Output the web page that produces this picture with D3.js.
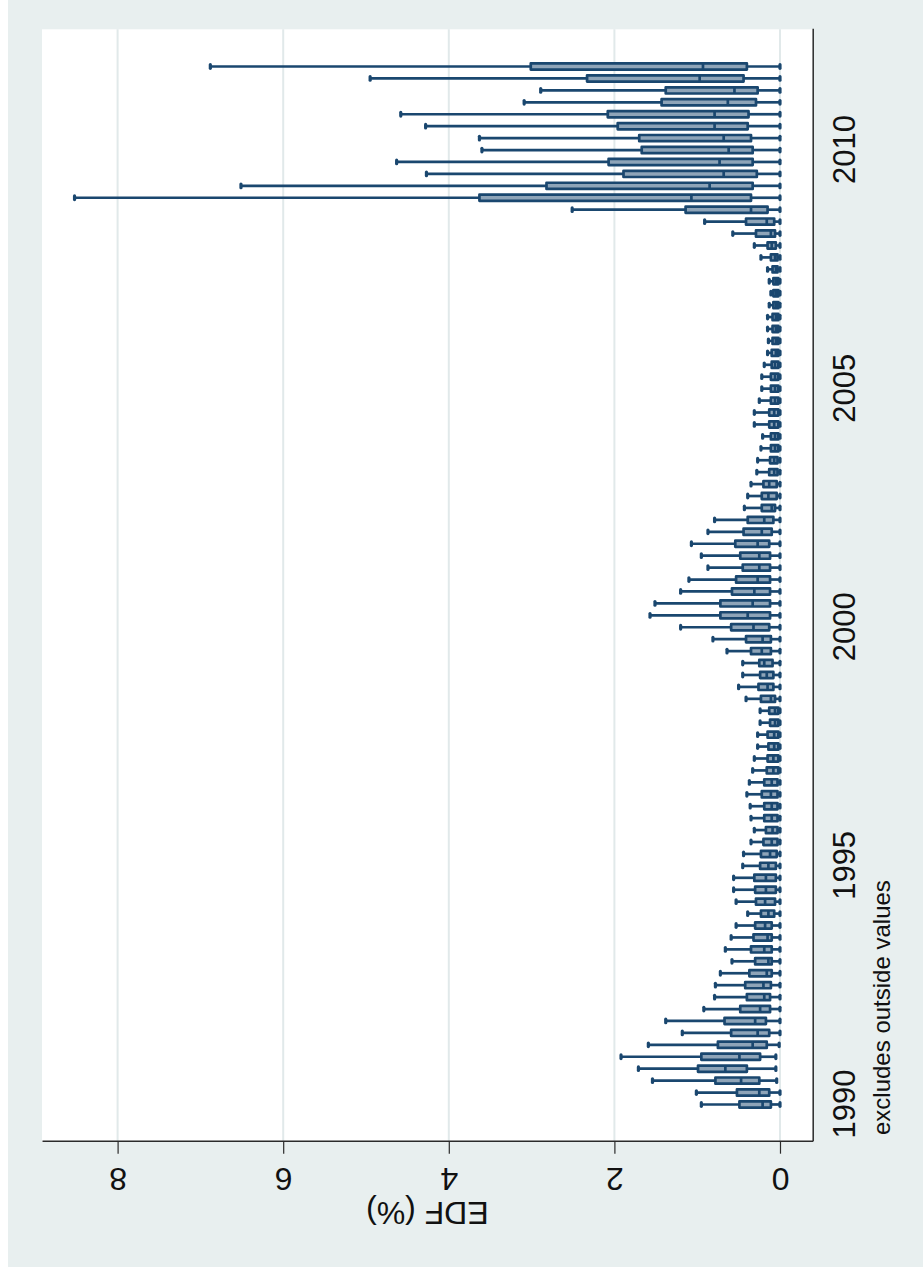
<!DOCTYPE html>
<html>
<head>
<meta charset="utf-8">
<script src="https://cdn.jsdelivr.net/npm/d3@7"></script>
<style>
  html, body { margin: 0; padding: 0; background: #ffffff; }
  svg { display: block; }
  text { font-family: "Liberation Sans", Arial, sans-serif; fill: #111; }
</style>
</head>
<body>
<svg id="chart" width="923" height="1272"></svg>
<script>
// Quarterly distribution of EDF (%), 1990q1 - 2011q4
const years = d3.range(1990, 2012);
const quarters = ["q1", "q2", "q3", "q4"];
const categories = years.flatMap(y => quarters.map(q => y + q));

// Box statistics, one value per quarter (4 per line = one year)
const lowWhisker = [
  0.00, 0.00, 0.04, 0.05,  0.05, 0.01, 0.00, 0.00,  0.00, 0.00, 0.00, 0.00,
  0.00, 0.00, 0.00, 0.00,  0.00, 0.00, 0.00, 0.00,  0.00, 0.00, 0.00, 0.00,
  0.00, 0.00, 0.00, 0.00,  0.00, 0.00, 0.00, 0.00,  0.00, 0.00, 0.00, 0.00,
  0.00, 0.00, 0.00, 0.00,  0.00, 0.00, 0.00, 0.00,  0.00, 0.00, 0.00, 0.00,
  0.00, 0.00, 0.00, 0.00,  0.00, 0.00, 0.00, 0.00,  0.00, 0.00, 0.00, 0.00,
  0.00, 0.00, 0.00, 0.00,  0.00, 0.00, 0.00, 0.00,  0.00, 0.00, 0.00, 0.00,
  0.00, 0.00, 0.00, 0.00,  0.00, 0.00, 0.00, 0.00,  0.00, 0.00, 0.00, 0.00,
  0.00, 0.00, 0.00, 0.00
];
const q1 = [
  0.11, 0.13, 0.25, 0.40,  0.24, 0.16, 0.13, 0.17,  0.12, 0.12, 0.11, 0.10,
  0.10, 0.10, 0.10, 0.10,  0.07, 0.06, 0.05, 0.05,  0.05, 0.04, 0.03, 0.03,
  0.03, 0.03, 0.03, 0.03,  0.02, 0.02, 0.02, 0.02,  0.02, 0.02, 0.06, 0.08,
  0.08, 0.09, 0.11, 0.11,  0.13, 0.12, 0.12, 0.12,  0.12, 0.12, 0.12, 0.13,
  0.10, 0.08, 0.06, 0.04,  0.04, 0.03, 0.03, 0.02,  0.02, 0.02, 0.02, 0.02,
  0.02, 0.02, 0.02, 0.02,  0.02, 0.02, 0.02, 0.02,  0.02, 0.02, 0.03, 0.03,
  0.05, 0.06, 0.07, 0.15,  0.35, 0.33, 0.28, 0.33,  0.33, 0.35, 0.39, 0.38,
  0.29, 0.27, 0.44, 0.40
];
const median = [
  0.21, 0.25, 0.47, 0.66,  0.49, 0.33, 0.27, 0.30,  0.24, 0.19, 0.20, 0.16,
  0.14, 0.19, 0.15, 0.18,  0.14, 0.18, 0.17, 0.17,  0.14, 0.12, 0.10, 0.09,
  0.10, 0.10, 0.11, 0.10,  0.08, 0.08, 0.07, 0.07,  0.06, 0.06, 0.11, 0.15,
  0.16, 0.19, 0.22, 0.21,  0.32, 0.39, 0.33, 0.31,  0.27, 0.25, 0.25, 0.27,
  0.22, 0.19, 0.10, 0.14,  0.13, 0.07, 0.07, 0.06,  0.06, 0.07, 0.07, 0.06,
  0.06, 0.06, 0.06, 0.05,  0.05, 0.05, 0.05, 0.05,  0.05, 0.05, 0.05, 0.06,
  0.10, 0.11, 0.16, 0.35,  1.07, 0.85, 0.68, 0.73,  0.62, 0.68, 0.79, 0.79,
  0.63, 0.55, 0.97, 0.93
];
const q3 = [
  0.49, 0.52, 0.78, 0.99,  0.95, 0.75, 0.59, 0.67,  0.48, 0.40, 0.42, 0.37,
  0.30, 0.35, 0.32, 0.30,  0.23, 0.29, 0.30, 0.31,  0.24, 0.23, 0.20, 0.17,
  0.19, 0.19, 0.22, 0.19,  0.16, 0.15, 0.14, 0.15,  0.12, 0.13, 0.23, 0.26,
  0.24, 0.25, 0.35, 0.41,  0.59, 0.72, 0.72, 0.58,  0.53, 0.45, 0.48, 0.54,
  0.44, 0.39, 0.22, 0.22,  0.20, 0.13, 0.12, 0.11,  0.11, 0.13, 0.13, 0.11,
  0.11, 0.11, 0.10, 0.10,  0.09, 0.09, 0.09, 0.08,  0.08, 0.08, 0.09, 0.11,
  0.15, 0.29, 0.41, 1.14,  3.63, 2.82, 1.89, 2.07,  1.67, 1.70, 1.96, 2.08,
  1.43, 1.38, 2.33, 3.01
];
const highWhisker = [
  0.95, 1.01, 1.54, 1.71,  1.92, 1.59, 1.18, 1.38,  0.92, 0.79, 0.78, 0.72,
  0.58, 0.66, 0.59, 0.53,  0.39, 0.53, 0.56, 0.56,  0.45, 0.44, 0.35, 0.31,
  0.35, 0.36, 0.40, 0.37,  0.33, 0.31, 0.27, 0.27,  0.24, 0.24, 0.41, 0.50,
  0.45, 0.45, 0.64, 0.81,  1.20, 1.57, 1.51, 1.20,  1.10, 0.87, 0.95, 1.07,
  0.87, 0.79, 0.43, 0.39,  0.35, 0.28, 0.27, 0.23,  0.21, 0.31, 0.31, 0.25,
  0.22, 0.22, 0.19, 0.15,  0.14, 0.15, 0.15, 0.13,  0.11, 0.13, 0.15, 0.23,
  0.31, 0.57, 0.91, 2.51,  8.52, 6.51, 4.27, 4.63,  3.60, 3.63, 4.28, 4.58,
  3.09, 2.89, 4.95, 6.88
];

// Axis labels
const edfTicks = [0, 2, 4, 6, 8];
const yearLabels = ["1990", "1995", "2000", "2005", "2010"];
const yTitle = "EDF (%)";
const noteText = "excludes outside values";

// Colours
const navy = "#1a476f";
const boxFill = "#8ea4b8";
const bgColor = "#e8efef";
const gridColor = "#e1e9ea";
const axisColor = "#2b2b2b";

const W = 923, H = 1272;
const svg = d3.select("#chart");

// Outer graph region
svg.append("rect").attr("x", 8).attr("y", 0).attr("width", W - 8).attr("height", 1267)
  .attr("fill", bgColor);

// The graph is laid out landscape (1272 wide x 923 tall) and turned a quarter-turn
const g = svg.append("g").attr("transform", `translate(0,${H}) rotate(-90)`);

const plot = { left: 130.3, right: 1242.7, top: 42, bottom: 812.7 };

const x = d3.scalePoint()
  .domain(categories)
  .range([plot.left, plot.right])
  .padding(3.12);

const y = d3.scaleLinear()
  .domain([-0.395, 8.913])
  .range([plot.bottom, plot.top]);

// Plot region
g.append("rect")
  .attr("x", plot.left).attr("y", plot.top)
  .attr("width", plot.right - plot.left).attr("height", plot.bottom - plot.top)
  .attr("fill", "#ffffff");

// Gridlines
g.append("g").selectAll("line").data(edfTicks).join("line")
  .attr("x1", plot.left).attr("x2", plot.right)
  .attr("y1", d => y(d)).attr("y2", d => y(d))
  .attr("stroke", gridColor).attr("stroke-width", 2);

// Box plots
const rows = categories.map((c, i) => ({
  c, lw: lowWhisker[i], q1: q1[i], med: median[i], q3: q3[i], hw: highWhisker[i]
}));

const halfBox = 3.1;
const capHalf = 1.8;
const lineW = 2.7;
const boxes = g.append("g").selectAll("g").data(rows).join("g");

// whiskers
boxes.append("line")
  .attr("x1", d => x(d.c)).attr("x2", d => x(d.c))
  .attr("y1", d => y(d.q3)).attr("y2", d => y(d.hw))
  .attr("stroke", navy).attr("stroke-width", lineW);
boxes.append("line")
  .attr("x1", d => x(d.c)).attr("x2", d => x(d.c))
  .attr("y1", d => y(d.q1)).attr("y2", d => y(d.lw))
  .attr("stroke", navy).attr("stroke-width", lineW);
// whisker caps
boxes.selectAll("line.cap").data(d => [d.hw, d.lw].map(v => ({ c: d.c, v }))).join("line")
  .attr("class", "cap")
  .attr("x1", d => x(d.c) - capHalf).attr("x2", d => x(d.c) + capHalf)
  .attr("y1", d => y(d.v)).attr("y2", d => y(d.v))
  .attr("stroke", navy).attr("stroke-width", 3.2).attr("stroke-linecap", "round");
// interquartile box
boxes.append("rect")
  .attr("x", d => x(d.c) - halfBox).attr("width", 2 * halfBox)
  .attr("y", d => y(d.q3)).attr("height", d => Math.max(0.5, y(d.q1) - y(d.q3)))
  .attr("fill", boxFill).attr("stroke", navy).attr("stroke-width", lineW)
  .attr("stroke-linejoin", "round");
// median
boxes.append("line")
  .attr("x1", d => x(d.c) - halfBox).attr("x2", d => x(d.c) + halfBox)
  .attr("y1", d => y(d.med)).attr("y2", d => y(d.med))
  .attr("stroke", navy).attr("stroke-width", lineW);

// EDF axis
const yAxis = g.append("g")
  .attr("transform", `translate(${plot.left},0)`)
  .call(d3.axisLeft(y).tickValues(edfTicks).tickFormat(d3.format("d"))
    .tickSize(12).tickSizeOuter(0));
yAxis.select(".domain").attr("stroke", axisColor).attr("stroke-width", 1.5);
yAxis.selectAll(".tick line").attr("stroke", axisColor).attr("stroke-width", 1.2);
yAxis.selectAll(".tick text")
  .attr("x", null).attr("dy", null)
  .attr("transform", "translate(-26,0) rotate(-90)")
  .attr("text-anchor", "middle")
  .style("font-size", "32px").style("font-family", "'Liberation Sans', Arial, sans-serif")
  .attr("fill", "#111");

// Category axis
const xAxis = g.append("g")
  .attr("transform", `translate(0,${plot.bottom})`)
  .call(d3.axisBottom(x).tickValues(yearLabels.map(yr => yr + "q1"))
    .tickFormat(d => d.slice(0, 4)).tickSize(0).tickSizeOuter(0));
xAxis.select(".domain").attr("stroke", axisColor).attr("stroke-width", 1.5);
xAxis.selectAll(".tick text")
  .attr("y", 42.5).attr("dy", null)
  .attr("text-anchor", "middle")
  .style("font-size", "31px").style("font-family", "'Liberation Sans', Arial, sans-serif")
  .attr("fill", "#111");

// Axis title
g.append("text")
  .attr("transform", `translate(70,${(plot.top + plot.bottom) / 2}) rotate(-90)`)
  .attr("text-anchor", "middle")
  .style("font-size", "32px")
  .text(yTitle);

// Note
g.append("text")
  .attr("x", 137).attr("y", 890)
  .style("font-size", "24px")
  .text(noteText);
</script>
</body>
</html>
